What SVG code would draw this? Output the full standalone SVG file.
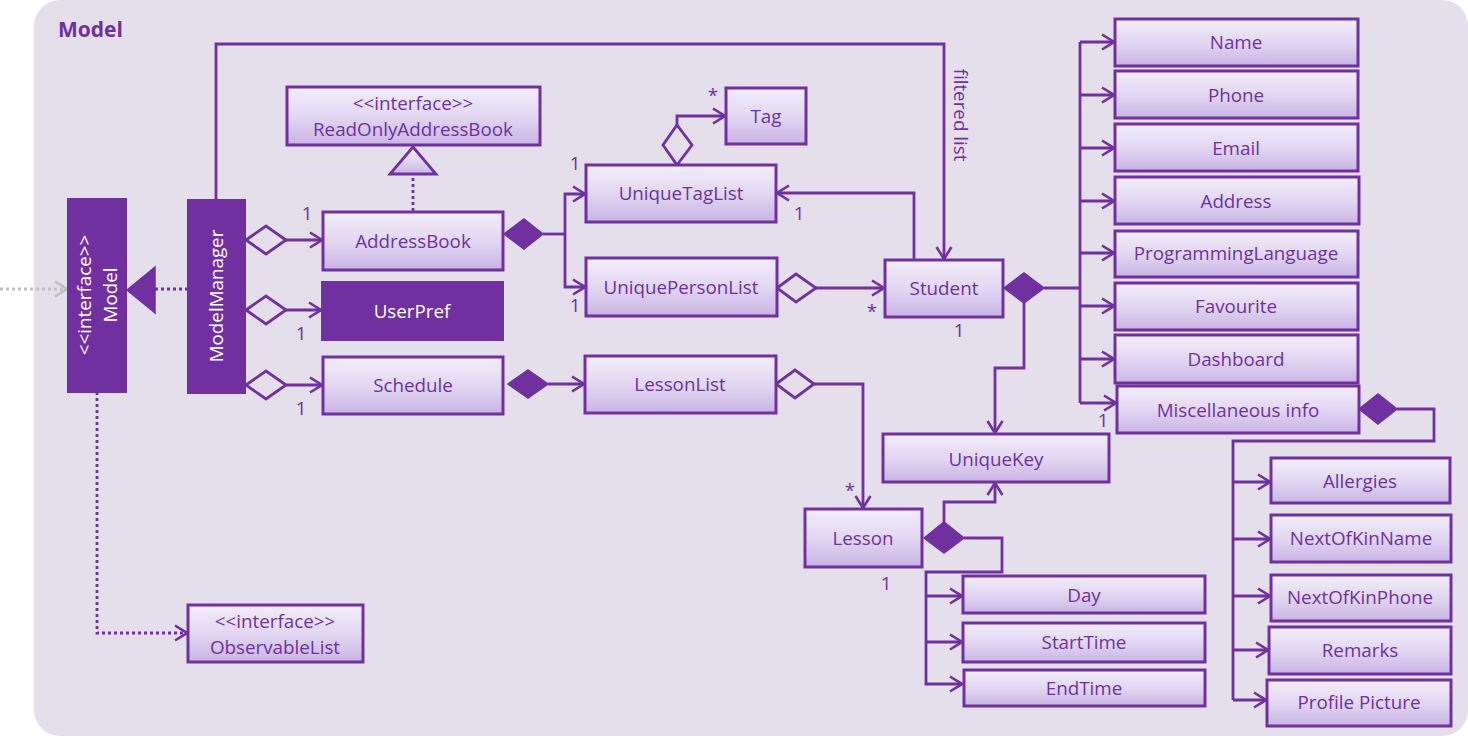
<svg xmlns="http://www.w3.org/2000/svg" width="1468" height="736" viewBox="0 0 1468 736">
  <defs>
    <linearGradient id="boxFill" x1="0" y1="0" x2="0" y2="1">
      <stop offset="0" stop-color="#F2EDFA"/>
      <stop offset="0.5" stop-color="#E2D7F2"/>
      <stop offset="1" stop-color="#C9B4E4"/>
    </linearGradient>
    <marker id="arrow" viewBox="0 0 14 18" refX="13" refY="9" markerWidth="14" markerHeight="18" markerUnits="userSpaceOnUse" orient="auto">
      <path d="M1,1.5 L13,9 L1,16.5" fill="none" stroke="#7030A0" stroke-width="2.6"/>
    </marker>
    <marker id="arrowGrey" viewBox="0 0 14 18" refX="13" refY="9" markerWidth="14" markerHeight="18" markerUnits="userSpaceOnUse" orient="auto">
      <path d="M1,1.5 L13,9 L1,16.5" fill="none" stroke="#BFBFBF" stroke-width="2.6"/>
    </marker>
  </defs>
  <style>
    .box { fill: url(#boxFill); stroke: #7030A0; stroke-width: 3; }
    .solid { fill: #7030A0; stroke: #7030A0; stroke-width: 2; }
    .lbl { font-family: "Open Sans", "Noto Sans", sans-serif; font-size: 18.8px; fill: #7030A0; text-anchor: middle; dominant-baseline: central; }
    .wlbl { font-family: "Open Sans", "Noto Sans", sans-serif; font-size: 18.8px; fill: #FFFFFF; text-anchor: middle; dominant-baseline: central; }
    .mult { font-family: "Open Sans", "Noto Sans", sans-serif; font-size: 18.8px; fill: #7030A0; text-anchor: middle; dominant-baseline: central; }
    .title { font-family: "Open Sans", "Noto Sans", sans-serif; font-size: 21px; font-weight: bold; fill: #7030A0; }
    .edge { fill: none; stroke: #7030A0; stroke-width: 2.8; }
    .dot { fill: none; stroke: #7030A0; stroke-width: 2.8; stroke-dasharray: 3 3; }
    .hollow { fill: #E5DFEC; stroke: #7030A0; stroke-width: 2.8; }
    .filled { fill: #7030A0; stroke: #7030A0; stroke-width: 1.5; }
  </style>

  <!-- package background -->
  <rect x="34" y="0" width="1434" height="736" rx="26" ry="26" fill="#E5DFEC"/>
  <text class="title" x="58" y="37">Model</text>

  <!-- connectors -->
  <g id="connectors">
    <!-- external dependency into Model -->
    <line x1="0" y1="289" x2="67" y2="289" stroke="#BFBFBF" stroke-width="3" stroke-dasharray="3 3" marker-end="url(#arrowGrey)"/>
    <!-- ModelManager realizes Model -->
    <line class="dot" x1="188" y1="289" x2="155" y2="289"/>
    <polygon class="filled" points="127,290 155,267 155,313"/>
    <!-- Model uses ObservableList -->
    <path class="dot" d="M97,392 V633 H187" marker-end="url(#arrow)"/>
    <!-- ModelManager aggregations -->
    <polygon class="hollow" points="246,240 266,226 286,240 266,254"/>
    <line class="edge" x1="286" y1="240" x2="322" y2="240" marker-end="url(#arrow)"/>
    <polygon class="hollow" points="246,310 266,296 286,310 266,324"/>
    <line class="edge" x1="286" y1="310" x2="321" y2="310" marker-end="url(#arrow)"/>
    <polygon class="hollow" points="246,385 266,371 286,385 266,399"/>
    <line class="edge" x1="286" y1="385" x2="322" y2="385" marker-end="url(#arrow)"/>
    <!-- filtered list -->
    <path class="edge" d="M216,200 V44 H944 V259" marker-end="url(#arrow)"/>
    <!-- AddressBook realizes ReadOnlyAddressBook -->
    <line class="dot" x1="413" y1="211" x2="413" y2="174"/>
    <polygon points="413,147 436,174 390,174" fill="url(#boxFill)" stroke="#7030A0" stroke-width="2.8"/>
    <!-- AddressBook composition -->
    <polygon class="filled" points="504,234 524,219 543,234 524,249"/>
    <line class="edge" x1="543" y1="234" x2="565" y2="234"/>
    <path class="edge" d="M565,234 V194 H585" marker-end="url(#arrow)"/>
    <path class="edge" d="M565,234 V287 H585" marker-end="url(#arrow)"/>
    <!-- UniqueTagList to Tag -->
    <polygon class="hollow" points="677,165 692,145 677,125 663,145"/>
    <path class="edge" d="M677,125 V116 H725" marker-end="url(#arrow)"/>
    <!-- UniquePersonList to Student -->
    <polygon class="hollow" points="777,288 796,274 816,288 796,302"/>
    <line class="edge" x1="816" y1="288" x2="884" y2="288" marker-end="url(#arrow)"/>
    <!-- Student to UniqueTagList -->
    <path class="edge" d="M914,259 V193 H777" marker-end="url(#arrow)"/>
    <!-- Student composition -->
    <polygon class="filled" points="1004,288 1024,273 1044,288 1024,303"/>
    <line class="edge" x1="1044" y1="288" x2="1080" y2="288"/>
    <line class="edge" x1="1080" y1="42" x2="1080" y2="403"/>
    <line class="edge" x1="1080" y1="42" x2="1114" y2="42" marker-end="url(#arrow)"/>
    <line class="edge" x1="1080" y1="95" x2="1114" y2="95" marker-end="url(#arrow)"/>
    <line class="edge" x1="1080" y1="148" x2="1114" y2="148" marker-end="url(#arrow)"/>
    <line class="edge" x1="1080" y1="201" x2="1114" y2="201" marker-end="url(#arrow)"/>
    <line class="edge" x1="1080" y1="253" x2="1114" y2="253" marker-end="url(#arrow)"/>
    <line class="edge" x1="1080" y1="306" x2="1114" y2="306" marker-end="url(#arrow)"/>
    <line class="edge" x1="1080" y1="359" x2="1114" y2="359" marker-end="url(#arrow)"/>
    <line class="edge" x1="1080" y1="403" x2="1116" y2="403" marker-end="url(#arrow)"/>
    <path class="edge" d="M1024,303 V368 H995 V433" marker-end="url(#arrow)"/>
    <!-- Miscellaneous info composition -->
    <polygon class="filled" points="1359,409 1378,394 1397,409 1378,424"/>
    <path class="edge" d="M1397,409 H1434 V441 H1233 V700"/>
    <line class="edge" x1="1233" y1="482" x2="1270" y2="482" marker-end="url(#arrow)"/>
    <line class="edge" x1="1233" y1="539" x2="1270" y2="539" marker-end="url(#arrow)"/>
    <line class="edge" x1="1233" y1="596" x2="1270" y2="596" marker-end="url(#arrow)"/>
    <line class="edge" x1="1233" y1="650" x2="1268" y2="650" marker-end="url(#arrow)"/>
    <line class="edge" x1="1233" y1="700" x2="1266" y2="700" marker-end="url(#arrow)"/>
    <!-- Schedule composition -->
    <polygon class="filled" points="508,384 528,370 548,384 528,398"/>
    <line class="edge" x1="548" y1="384" x2="584" y2="384" marker-end="url(#arrow)"/>
    <!-- LessonList to Lesson -->
    <polygon class="hollow" points="776,384 795,370 814,384 795,398"/>
    <path class="edge" d="M814,384 H863 V508" marker-end="url(#arrow)"/>
    <!-- Lesson composition -->
    <polygon class="filled" points="924,538 944,522 964,538 944,553"/>
    <path class="edge" d="M944,522 V502 H995 V483" marker-end="url(#arrow)"/>
    <path class="edge" d="M964,538 H1002 V572 H926 V684 H962" marker-end="url(#arrow)"/>
    <line class="edge" x1="926" y1="596" x2="962" y2="596" marker-end="url(#arrow)"/>
    <line class="edge" x1="926" y1="642" x2="962" y2="642" marker-end="url(#arrow)"/>

    <!-- multiplicities and labels -->
    <text class="mult" x="307" y="213">1</text>
    <text class="mult" x="301" y="333">1</text>
    <text class="mult" x="301" y="408">1</text>
    <text class="mult" x="575" y="163">1</text>
    <text class="mult" x="575" y="305">1</text>
    <text class="mult" x="713" y="95">*</text>
    <text class="mult" x="799" y="213">1</text>
    <text class="mult" x="872" y="311">*</text>
    <text class="mult" x="959" y="330">1</text>
    <text class="mult" x="1103" y="420">1</text>
    <text class="mult" x="850" y="490">*</text>
    <text class="mult" x="886" y="583">1</text>
    <text class="lbl" transform="translate(961,115) rotate(90)">filtered list</text>
  </g>

  <!-- interfaces and managers -->
  <g id="Model">
    <rect class="solid" x="68" y="199" width="58" height="193"/>
    <text class="wlbl" transform="translate(84,295) rotate(-90)">&lt;&lt;interface&gt;&gt;</text>
    <text class="wlbl" transform="translate(110,295) rotate(-90)">Model</text>
  </g>
  <g id="ModelManager">
    <rect class="solid" x="188" y="200" width="57" height="193"/>
    <text class="wlbl" transform="translate(216,296) rotate(-90)">ModelManager</text>
  </g>
  <g id="ObservableList">
    <rect class="box" x="188" y="605" width="175" height="57"/>
    <text class="lbl" x="275" y="621">&lt;&lt;interface&gt;&gt;</text>
    <text class="lbl" x="275" y="647">ObservableList</text>
  </g>
  <g id="ReadOnlyAddressBook">
    <rect class="box" x="287" y="87" width="253" height="58"/>
    <text class="lbl" x="413" y="103">&lt;&lt;interface&gt;&gt;</text>
    <text class="lbl" x="413" y="129">ReadOnlyAddressBook</text>
  </g>
  <g id="AddressBook">
    <rect class="box" x="323" y="212" width="180" height="58"/>
    <text class="lbl" x="413" y="241">AddressBook</text>
  </g>
  <g id="UserPref">
    <rect class="solid" x="322" y="282" width="181" height="58"/>
    <text class="wlbl" x="412" y="311">UserPref</text>
  </g>
  <g id="Schedule">
    <rect class="box" x="323" y="357" width="180" height="57"/>
    <text class="lbl" x="413" y="385">Schedule</text>
  </g>
  <g id="UniqueTagList">
    <rect class="box" x="586" y="165" width="190" height="57"/>
    <text class="lbl" x="681" y="193">UniqueTagList</text>
  </g>
  <g id="Tag">
    <rect class="box" x="726" y="88" width="80" height="56"/>
    <text class="lbl" x="766" y="116">Tag</text>
  </g>
  <g id="UniquePersonList">
    <rect class="box" x="586" y="258" width="191" height="58"/>
    <text class="lbl" x="681" y="287">UniquePersonList</text>
  </g>
  <g id="LessonList">
    <rect class="box" x="585" y="356" width="191" height="57"/>
    <text class="lbl" x="680" y="384">LessonList</text>
  </g>
  <g id="Student">
    <rect class="box" x="885" y="260" width="118" height="57"/>
    <text class="lbl" x="944" y="288">Student</text>
  </g>
  <g id="UniqueKey">
    <rect class="box" x="883" y="434" width="226" height="48"/>
    <text class="lbl" x="996" y="459">UniqueKey</text>
  </g>
  <g id="Lesson">
    <rect class="box" x="805" y="509" width="117" height="58"/>
    <text class="lbl" x="863" y="538">Lesson</text>
  </g>
  <g id="Day">
    <rect class="box" x="963" y="576" width="242" height="37"/>
    <text class="lbl" x="1084" y="595">Day</text>
  </g>
  <g id="StartTime">
    <rect class="box" x="963" y="623" width="242" height="39"/>
    <text class="lbl" x="1084" y="642">StartTime</text>
  </g>
  <g id="EndTime">
    <rect class="box" x="964" y="670" width="241" height="36"/>
    <text class="lbl" x="1084" y="688">EndTime</text>
  </g>
  <g id="Name">
    <rect class="box" x="1115" y="19" width="243" height="47"/>
    <text class="lbl" x="1236" y="42">Name</text>
  </g>
  <g id="Phone">
    <rect class="box" x="1115" y="71" width="243" height="47"/>
    <text class="lbl" x="1236" y="95">Phone</text>
  </g>
  <g id="Email">
    <rect class="box" x="1115" y="124" width="243" height="47"/>
    <text class="lbl" x="1236" y="148">Email</text>
  </g>
  <g id="Address">
    <rect class="box" x="1115" y="177" width="244" height="47"/>
    <text class="lbl" x="1236" y="201">Address</text>
  </g>
  <g id="ProgrammingLanguage">
    <rect class="box" x="1115" y="231" width="243" height="46"/>
    <text class="lbl" x="1236" y="253">ProgrammingLanguage</text>
  </g>
  <g id="Favourite">
    <rect class="box" x="1115" y="283" width="243" height="47"/>
    <text class="lbl" x="1236" y="306">Favourite</text>
  </g>
  <g id="Dashboard">
    <rect class="box" x="1115" y="335" width="243" height="48"/>
    <text class="lbl" x="1236" y="359">Dashboard</text>
  </g>
  <g id="MiscellaneousInfo">
    <rect class="box" x="1117" y="386" width="242" height="47"/>
    <text class="lbl" x="1238" y="410">Miscellaneous info</text>
  </g>
  <g id="Allergies">
    <rect class="box" x="1271" y="458" width="179" height="45"/>
    <text class="lbl" x="1360" y="481">Allergies</text>
  </g>
  <g id="NextOfKinName">
    <rect class="box" x="1271" y="515" width="180" height="47"/>
    <text class="lbl" x="1361" y="538">NextOfKinName</text>
  </g>
  <g id="NextOfKinPhone">
    <rect class="box" x="1271" y="575" width="180" height="46"/>
    <text class="lbl" x="1360" y="597">NextOfKinPhone</text>
  </g>
  <g id="Remarks">
    <rect class="box" x="1269" y="627" width="182" height="47"/>
    <text class="lbl" x="1360" y="650">Remarks</text>
  </g>
  <g id="ProfilePicture">
    <rect class="box" x="1267" y="680" width="184" height="46"/>
    <text class="lbl" x="1359" y="702">Profile Picture</text>
  </g>
</svg>
